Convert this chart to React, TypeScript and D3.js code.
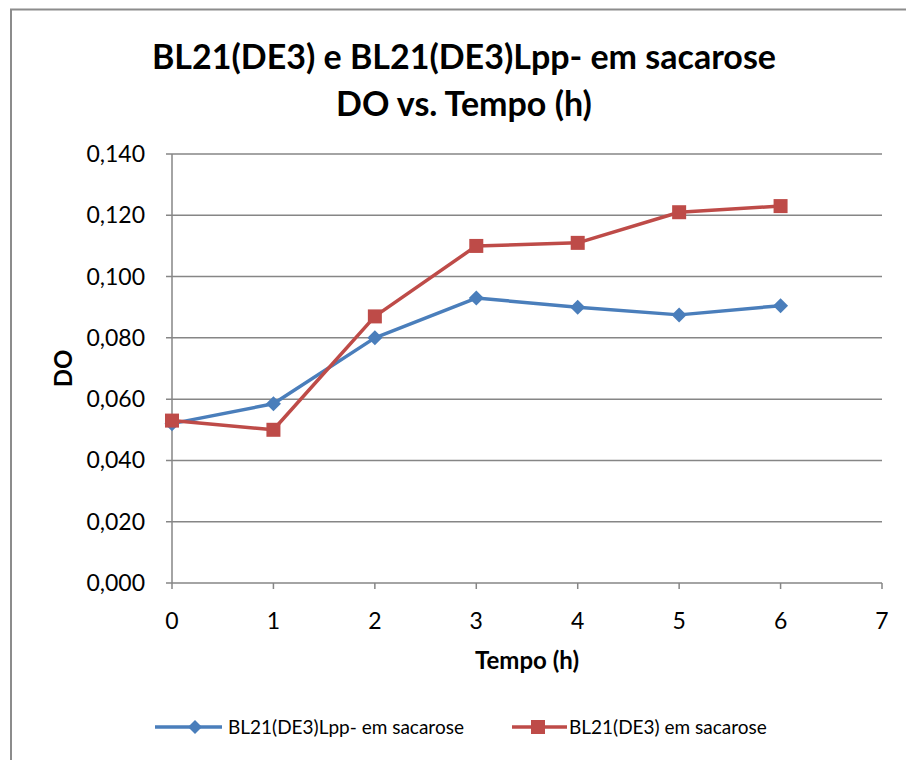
import React, { useEffect, useRef } from 'react';
import * as d3 from 'd3';

// hours
const tempo = [0, 1, 2, 3, 4, 5, 6];
// DO values
const lppSacarose = [0.052, 0.0585, 0.08, 0.093, 0.09, 0.0875, 0.0905];
const bl21Sacarose = [0.053, 0.05, 0.087, 0.11, 0.111, 0.121, 0.123];
const yTicks = [0, 0.02, 0.04, 0.06, 0.08, 0.1, 0.12, 0.14];
const xTicks = [0, 1, 2, 3, 4, 5, 6, 7];
const seriesNames = ['BL21(DE3)Lpp- em sacarose', 'BL21(DE3) em sacarose'];

const FONT = 'Lato, "Open Sans", sans-serif';

function App() {
  const svgRef = useRef<SVGSVGElement>(null);

  useEffect(() => {
    const root = d3.select(svgRef.current);
    root.selectAll('*').remove();
    const width = 906;
    const height = 760;

    root.append('rect').attr('width', width).attr('height', height).attr('fill', 'white');
    // everything below is laid out 8px in from the page corner
    const svg = root.append('g').attr('transform', 'translate(8,8)');

    const x = d3.scaleLinear().domain([0, 7]).range([164, 874]);
    const y = d3.scaleLinear().domain([0, 0.14]).range([575, 146]);
    const fmt = (d: number) => d3.format('.3f')(d).replace('.', ',');

    // outer frame (runs off the right and bottom edges)
    svg
      .append('rect')
      .attr('x', 3)
      .attr('y', 1.5)
      .attr('width', width + 20)
      .attr('height', height + 20)
      .attr('fill', 'white')
      .attr('stroke', '#8c8c8c')
      .attr('stroke-width', 2);

    // title
    const title = svg
      .append('text')
      .attr('text-anchor', 'middle')
      .attr('font-family', FONT)
      .attr('font-weight', 'bold')
      .attr('font-size', 34)
      .attr('fill', '#000');
    title
      .append('tspan')
      .attr('x', 456)
      .attr('y', 61)
      .text('BL21(DE3) e BL21(DE3)Lpp- em sacarose');
    title.append('tspan').attr('x', 456).attr('y', 108).text('DO vs. Tempo (h)');

    // horizontal gridlines
    svg
      .append('g')
      .selectAll('line')
      .data(yTicks)
      .enter()
      .append('line')
      .attr('x1', x(0) - 6)
      .attr('x2', x(7))
      .attr('y1', (d) => y(d))
      .attr('y2', (d) => y(d))
      .attr('stroke', '#868686')
      .attr('stroke-width', 1.5);

    // y axis line
    svg
      .append('line')
      .attr('x1', x(0))
      .attr('x2', x(0))
      .attr('y1', y(0.14))
      .attr('y2', y(0))
      .attr('stroke', '#868686')
      .attr('stroke-width', 1.5);

    // x ticks
    svg
      .append('g')
      .selectAll('line')
      .data(xTicks)
      .enter()
      .append('line')
      .attr('x1', (d) => x(d))
      .attr('x2', (d) => x(d))
      .attr('y1', y(0))
      .attr('y2', y(0) + 6)
      .attr('stroke', '#868686')
      .attr('stroke-width', 1.5);

    // y tick labels
    svg
      .append('g')
      .selectAll('text')
      .data(yTicks)
      .enter()
      .append('text')
      .attr('x', x(0) - 27)
      .attr('y', (d) => y(d) + 8)
      .attr('text-anchor', 'end')
      .attr('font-family', FONT)
      .attr('font-size', 23)
      .text((d) => fmt(d));

    // x tick labels
    svg
      .append('g')
      .selectAll('text')
      .data(xTicks)
      .enter()
      .append('text')
      .attr('x', (d) => x(d))
      .attr('y', y(0) + 46)
      .attr('text-anchor', 'middle')
      .attr('font-family', FONT)
      .attr('font-size', 23)
      .text((d) => String(d));

    // axis titles
    svg
      .append('text')
      .attr('transform', 'translate(64,' + y(0.07) + ') rotate(-90)')
      .attr('text-anchor', 'middle')
      .attr('font-family', FONT)
      .attr('font-weight', 'bold')
      .attr('font-size', 24)
      .text('DO');
    svg
      .append('text')
      .attr('x', x(3.5))
      .attr('y', 661)
      .attr('text-anchor', 'middle')
      .attr('font-family', FONT)
      .attr('font-weight', 'bold')
      .attr('font-size', 24)
      .text('Tempo (h)');

    const colors = ['#4A7EBB', '#BE4B48'];
    const allSeries = [lppSacarose, bl21Sacarose];
    const line = d3
      .line<number>()
      .x((d, i) => x(tempo[i]))
      .y((d) => y(d));

    const diamond = (cx: number, cy: number, r: number) =>
      'M' + cx + ',' + (cy - r) + 'L' + (cx + r) + ',' + cy + 'L' + cx + ',' + (cy + r) + 'L' + (cx - r) + ',' + cy + 'Z';

    allSeries.forEach((vals, si) => {
      svg
        .append('path')
        .datum(vals)
        .attr('d', line)
        .attr('fill', 'none')
        .attr('stroke', colors[si])
        .attr('stroke-width', 3.5)
        .attr('stroke-linejoin', 'round');
      const g = svg.append('g');
      if (si === 0) {
        g.selectAll('path')
          .data(vals)
          .enter()
          .append('path')
          .attr('d', (d, i) => diamond(x(tempo[i]), y(d), 7.5))
          .attr('fill', colors[si]);
      } else {
        g.selectAll('rect')
          .data(vals)
          .enter()
          .append('rect')
          .attr('x', (d, i) => x(tempo[i]) - 7)
          .attr('y', (d) => y(d) - 7)
          .attr('width', 14)
          .attr('height', 14)
          .attr('fill', colors[si]);
      }
    });

    // legend
    const legendY = 719;
    const legendItems = [
      { x0: 147, x1: 214, marker: 187, label: 220 },
      { x0: 504, x1: 559, marker: 530, label: 561 },
    ];
    legendItems.forEach((it, si) => {
      svg
        .append('line')
        .attr('x1', it.x0)
        .attr('x2', it.x1)
        .attr('y1', legendY)
        .attr('y2', legendY)
        .attr('stroke', colors[si])
        .attr('stroke-width', 3.5);
      if (si === 0) {
        svg.append('path').attr('d', diamond(it.marker, legendY, 7)).attr('fill', colors[si]);
      } else {
        svg
          .append('rect')
          .attr('x', it.marker - 7)
          .attr('y', legendY - 7)
          .attr('width', 14)
          .attr('height', 14)
          .attr('fill', colors[si]);
      }
      svg
        .append('text')
        .attr('x', it.label)
        .attr('y', legendY + 7)
        .attr('font-family', FONT)
        .attr('font-size', 19)
        .text(seriesNames[si]);
    });
  }, []);

  return (
    <div style={{ position: 'fixed', left: 0, top: 0, width: 906, height: 760, overflow: 'hidden' }}>
      <svg ref={svgRef} width={906} height={760} style={{ display: 'block' }}></svg>
    </div>
  );
}

export default App;
